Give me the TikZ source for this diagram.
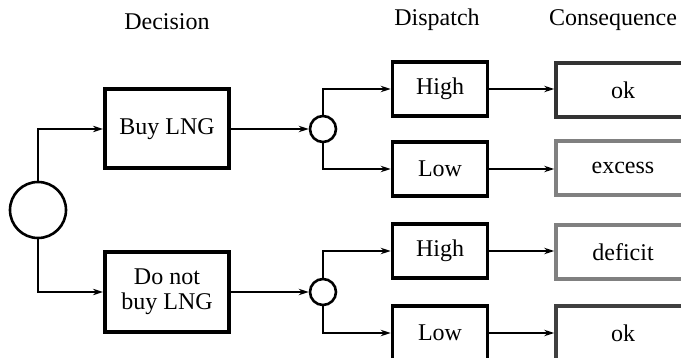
\documentclass[tikz,border=0pt]{standalone}
\usepackage{fontspec}
\setmainfont{Liberation Serif}
\usetikzlibrary{arrows.meta}
\tikzset{
  >={Stealth[length=5pt,width=3.2pt]},
  dec/.style={draw,line width=2pt,minimum width=62pt,minimum height=39.5pt,align=center,font=\fontsize{12}{12.5}\selectfont},
  dsp/.style={draw,line width=1.8pt,minimum width=47.5pt,minimum height=27pt,font=\fontsize{12}{13}\selectfont},
  csq/.style={draw,line width=1.8pt,minimum width=67pt,minimum height=27pt,font=\fontsize{12}{13}\selectfont},
  ch/.style={circle,draw,line width=1.3pt,inner sep=0pt},
  hd/.style={font=\fontsize{12}{13}\selectfont},
  every picture/.style={line width=1.3pt},
}
\begin{document}
\begin{tikzpicture}[x=0.5pt,y=-0.5pt]
\useasboundingbox (0,0) rectangle (681,358);
\node[ch,minimum size=28pt] (root) at (38,210){};
\node[dec] (buy) at (167,129){Buy LNG};
\node[dec] (nobuy) at (167,292){Do not\\buy LNG};
\foreach \n/\y in {c1/129,c2/292}{\node[ch,minimum size=13pt] (\n) at (323,\y){};}
\foreach \n/\y/\t in {h1/89/High,l1/169/Low,h2/251/High,l2/333/Low}{\node[dsp] (\n) at (440,\y){\t};}
\node[csq,draw=black!80] (o1) at (623,90){ok};
\node[csq,draw=black!50] (e1) at (623,168){excess};
\node[csq,draw=black!50] (d2) at (623,252){deficit};
\node[csq,draw=black!75] (o2) at (623,333){ok};
\node[hd] (hdec) at (167,22){Decision};
\node[hd] (hdsp) at (437,20){Dispatch};
\node[hd] (hcsq) at (613,20){Consequence};
\draw[->] (root.north) |- (buy.west); \draw[->] (root.south) |- (nobuy.west);
\draw[->] (buy) -- (c1); \draw[->] (nobuy) -- (c2);
\draw[->] (c1.north) |- (h1.west); \draw[->] (c1.south) |- (l1.west);
\draw[->] (c2.north) |- (h2.west); \draw[->] (c2.south) |- (l2.west);
\draw[->] (h1) -- (h1-|o1.west); \draw[->] (l1) -- (l1-|e1.west);
\draw[->] (h2) -- (h2-|d2.west); \draw[->] (l2) -- (l2-|o2.west);
\end{tikzpicture}
\end{document}
